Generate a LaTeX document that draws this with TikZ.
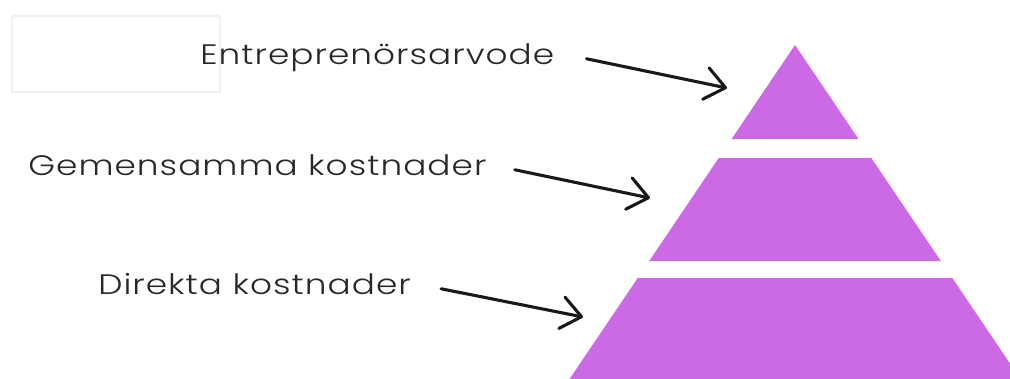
\documentclass[tikz,border=0pt]{standalone}
\usepackage{fontspec}
\setmainfont{Poppins}[UprightFont={* Light}]
\usetikzlibrary{arrows.meta}

\definecolor{pyrpurple}{RGB}{203, 106, 228}
\definecolor{lblgray}{RGB}{40, 40, 40}

\newcommand{\widetxt}[1]{\scalebox{1.22}[1]{\addfontfeature{LetterSpace=3}#1}}

\begin{document}
\begin{tikzpicture}[
    x=0.025cm, y=-0.025cm,
    lbl/.style={anchor=base west, inner sep=0pt, font=\fontsize{20}{24}\selectfont, text=lblgray},
    pil/.style={line width=2.2pt, line cap=round, black!90,
      -{Straight Barb[length=0.5cm, width=0.8cm, line width=2.2pt, round]}},
    tier/.style={fill=pyrpurple, draw=none},
  ]
    \useasboundingbox (0,0) rectangle (1010,378);
    \clip (0,0) rectangle (1010,378);

    % === faint box, top left ===
    \draw[black!6, line width=1.5pt] (12,16) rectangle (220,92);

    % === pyramid: apex at (795,45), half width grows 0.675 per px down ===
    \def\apx{795}
    \def\apy{45}
    \foreach \yt/\yb in {45/139, 158/261, 278/380} {
      \pgfmathsetmacro\wt{0.675*(\yt-\apy)}
      \pgfmathsetmacro\wb{0.675*(\yb-\apy)}
      \fill[tier] (\apx-\wt,\yt) -- (\apx+\wt,\yt) -- (\apx+\wb,\yb) -- (\apx-\wb,\yb) -- cycle;
    }

    % --- arrow tips on the tiers ---
    \coordinate (tipTop) at (727,88);
    \coordinate (tipMid) at (650,198);
    \coordinate (tipBot) at (583,317);

    % === labels ===
    \node[lbl] (lblTop) at (200,64) {\widetxt{Entreprenörsarvode}};
    \node[lbl] (lblMid) at (28,175) {\widetxt{Gemensamma kostnader}};
    \node[lbl] (lblBot) at (98,294) {\widetxt{Direkta kostnader}};

    % === arrows ===
    \draw[pil] ([xshift=0.8cm, yshift=1pt]lblTop.mid east) -- (tipTop);
    \draw[pil] ([xshift=0.7cm, yshift=1pt]lblMid.mid east) -- (tipMid);
    \draw[pil] ([xshift=0.75cm, yshift=1pt]lblBot.mid east) -- (tipBot);
\end{tikzpicture}
\end{document}
